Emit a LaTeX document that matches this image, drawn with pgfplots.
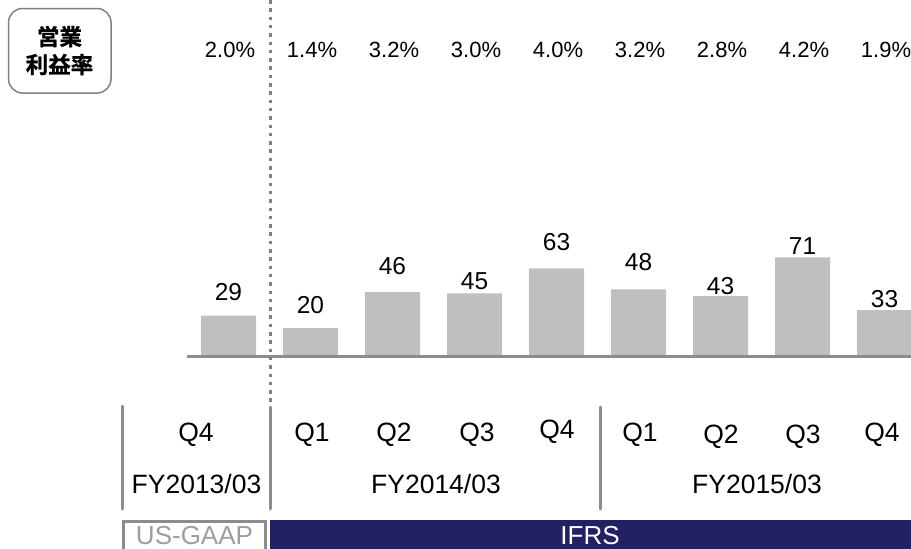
\documentclass[border=0pt]{standalone}
\usepackage{fontspec}
\setmainfont{Liberation Sans}
\newfontfamily\cjk[FakeBold=1.2]{Noto Sans CJK JP Bold}
\usepackage{pgfplots}
\pgfplotsset{compat=1.18}
\definecolor{barg}{HTML}{BFBFBF}
\definecolor{lineg}{HTML}{8C8C8C}
\definecolor{dotg}{HTML}{808080}
\definecolor{navyb}{RGB}{35,33,100}
\newcommand{\pfs}{\fontsize{22}{25}\selectfont}
\newcommand{\vfs}{\fontsize{24.5}{28}\selectfont}
\newcommand{\qfs}{\fontsize{26.5}{30}\selectfont}
\begin{document}
\begin{tikzpicture}[x=1pt,y=1pt]
\useasboundingbox (0,0) rectangle (911,-549);
\begin{axis}[at={(0,0)},anchor=north west,scale only axis,width=911pt,height=549pt,
  xmin=-2.7866,xmax=8.3232,ymin=-138.85,ymax=256.12,hide axis,clip=false]
\addplot[ybar,bar width=55pt,fill=barg,draw=none] coordinates {(0,29)(1,20)(2,46)(3,45)(4,63)(5,48)(6,43)(7,71)(8,33)};
\node[font=\vfs] at (axis cs:0,46.0) {29};
\node[font=\vfs] at (axis cs:1,36.7) {20};
\node[font=\vfs] at (axis cs:2,65.0) {46};
\node[font=\vfs] at (axis cs:3,53.7) {45};
\node[font=\vfs] at (axis cs:4,81.8) {63};
\node[font=\vfs] at (axis cs:5,67.6) {48};
\node[font=\vfs] at (axis cs:6,50.4) {43};
\node[font=\vfs] at (axis cs:7,79.1) {71};
\node[font=\vfs] at (axis cs:8,41.0) {33};
\end{axis}
% baseline
\draw[lineg,line width=3pt] (187,-356.5) -- (911,-356.5);
% dotted divider
\draw[dotg,line width=3.5pt,dash pattern=on 3.5pt off 4.8pt] (270.5,0) -- (270.5,-402);
% separators
\draw[lineg,line width=3pt,line cap=round] (122,-406) -- (122,-509);
\draw[lineg,line width=3pt,line cap=round] (270.5,-407) -- (270.5,-509);
\draw[lineg,line width=3pt,line cap=round] (600.5,-407) -- (600.5,-509);
% percentages
\foreach \p [count=\i from 0] in {2.0\%,1.4\%,3.2\%,3.0\%,4.0\%,3.2\%,2.8\%,4.2\%,1.9\%}{
  \node[font=\pfs,anchor=base] at ({230+82*\i},-57.7) {\p};
}
% quarter labels
\node[font=\qfs,anchor=base] at (196,-441) {Q4};
\node[font=\qfs,anchor=base] at (312,-441) {Q1};
\node[font=\qfs,anchor=base] at (394,-441) {Q2};
\node[font=\qfs,anchor=base] at (477,-441) {Q3};
\node[font=\qfs,anchor=base] at (557,-438) {Q4};
\node[font=\qfs,anchor=base] at (640,-441) {Q1};
\node[font=\qfs,anchor=base] at (721,-443) {Q2};
\node[font=\qfs,anchor=base] at (803,-443) {Q3};
\node[font=\qfs,anchor=base] at (882,-441) {Q4};
% fiscal years
\node[font=\qfs,anchor=base] at (196.5,-493.3) {FY2013/03};
\node[font=\qfs,anchor=base] at (436,-493.3) {FY2014/03};
\node[font=\qfs,anchor=base] at (757,-493.3) {FY2015/03};
% accounting standard bands
\draw[lineg,line width=3pt] (123.5,-560) -- (123.5,-521.5) -- (265.5,-521.5) -- (265.5,-560);
\node[font=\fontsize{26}{30}\selectfont,anchor=base,text=lineg!85!white,inner sep=0pt] at (194.5,-544.5) {US-GAAP};
\fill[navyb] (270,-520) rectangle (911,-549);
\node[font=\fontsize{26}{30}\selectfont,anchor=base,text=white,inner sep=0pt] at (590,-544.5) {IFRS};
% label box
\draw[gray,line width=1.5pt,rounded corners=14pt] (8.5,-8.5) rectangle (111,-93);
\node[font=\cjk\fontsize{22.5}{28}\selectfont,align=center] at (59.5,-50.5) {営業\\利益率};
\end{tikzpicture}
\end{document}
